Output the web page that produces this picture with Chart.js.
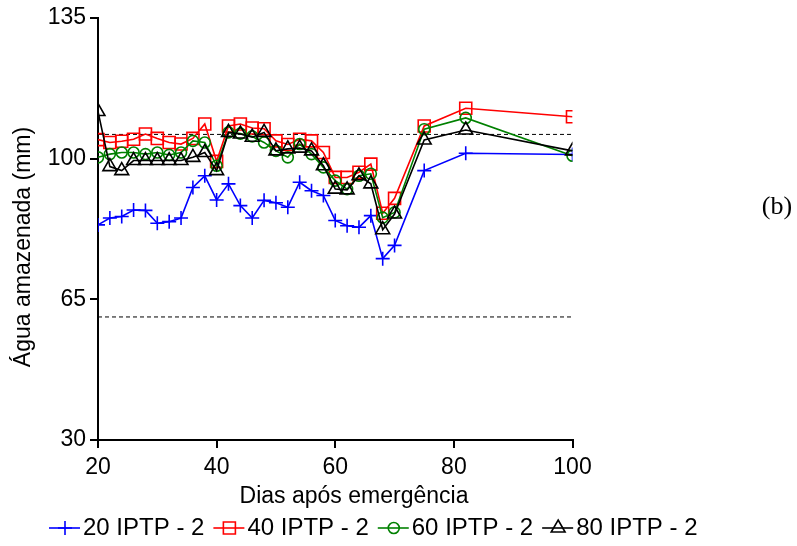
<!DOCTYPE html>
<html>
<head>
<meta charset="utf-8">
<script src="https://cdn.jsdelivr.net/npm/chart.js@4/dist/chart.umd.min.js"></script>
<style>
    html, body { margin: 0; padding: 0; background: #fff; }
</style>
</head>
<body>
<canvas id="chart" width="797" height="546"></canvas>
<script>
// Dias após emergência
const days = [20, 22, 24, 26, 28, 30, 32, 34, 36, 38, 40, 42, 44, 46, 48, 50, 52, 54, 56, 58, 60, 62, 64, 66, 68, 70, 75, 82, 100];

// Água amazenada (mm) por tratamento
const iptp20 = [83.5, 85.2, 85.6, 87.2, 87.1, 83.9, 84.3, 85.2, 92.8, 95.7, 89.7, 93.7, 88.3, 85.2, 89.6, 89.0, 87.9, 94.1, 92.0, 90.8, 84.6, 83.3, 82.9, 85.8, 75.1, 78.4, 97.0, 101.3, 101.0];
const iptp40 = [104.7, 104.0, 104.3, 104.8, 106.1, 105.0, 104.0, 103.6, 105.0, 108.6, 99.3, 108.1, 108.6, 107.6, 107.4, 104.4, 103.5, 104.8, 104.4, 101.5, 95.3, 95.3, 96.6, 98.6, 86.4, 90.1, 108.1, 112.5, 110.4];
const iptp60 = [100.3, 101.1, 101.5, 101.5, 101.1, 101.5, 100.9, 101.5, 104.4, 104.0, 98.2, 106.5, 106.2, 105.5, 104.0, 101.9, 100.3, 103.6, 101.1, 97.8, 94.5, 92.4, 95.7, 96.2, 85.3, 86.6, 107.3, 110.1, 100.7];
const iptp80 = [111.7, 98.0, 97.0, 99.5, 99.5, 99.5, 99.5, 99.5, 100.3, 101.5, 97.0, 106.5, 106.1, 105.3, 106.5, 101.9, 102.4, 102.6, 101.9, 98.2, 92.4, 92.2, 95.7, 93.7, 82.3, 86.2, 104.6, 107.1, 101.9];

// linhas tracejadas de referência
const refDays = [20, 100];
const refUpper = 106;
const refLower = 60.6;

const seriesLabels = ['20 IPTP - 2', '40 IPTP - 2', '60 IPTP - 2', '80 IPTP - 2'];
const yTicks = [30, 65, 100, 135];

const FONT = '"Liberation Sans", Arial, sans-serif';
const FSIZE = 23;

function toPoints(xs, ys) {
    return xs.map((x, i) => ({ x: x, y: ys[i] }));
}

function series(label, values, color, style, radius, order) {
    return {
        label: label,
        data: toPoints(days, values),
        borderColor: color,
        backgroundColor: 'rgba(0,0,0,0)',
        borderWidth: 1.6,
        pointStyle: style,
        pointRadius: radius,
        pointBorderWidth: 1.6,
        pointBorderColor: color,
        pointBackgroundColor: 'rgba(0,0,0,0)',
        tension: 0,
        order: order,
        inLegend: true,
    };
}

function refLine(value) {
    return {
        label: '',
        data: refDays.map(d => ({ x: d, y: value })),
        borderColor: '#000',
        borderWidth: 1,
        borderDash: [4, 3],
        pointRadius: 0,
        order: 10,
        inLegend: false,
    };
}

// legenda embaixo (linha + marcador), títulos dos eixos e rótulo (b)
const extras = {
    id: 'extras',
    afterDraw(chart) {
        const ctx = chart.ctx;
        const y = 528;
        let x = 49;
        ctx.save();
        ctx.font = '24px ' + FONT;
        ctx.textBaseline = 'middle';
        ctx.textAlign = 'left';
        chart.data.datasets.forEach(ds => {
            if (!ds.inLegend) return;
            ctx.strokeStyle = ds.borderColor;
            ctx.lineWidth = 1.6;
            ctx.beginPath();
            ctx.moveTo(x, y);
            ctx.lineTo(x + 31, y);
            ctx.stroke();
            ctx.fillStyle = 'rgba(0,0,0,0)';
            Chart.helpers.drawPoint(ctx, {
                pointStyle: ds.pointStyle,
                radius: ds.pointRadius,
                borderWidth: ds.pointBorderWidth,
                rotation: 0,
            }, x + 16, y);
            ctx.fillStyle = '#000';
            ctx.fillText(ds.label, x + 34, y);
            x += 34 + ctx.measureText(ds.label).width + 9;
        });

        ctx.font = FSIZE + 'px ' + FONT;
        ctx.textAlign = 'center';
        ctx.fillText('Dias após emergência', 354, 497);

        ctx.save();
        ctx.translate(24, 247);
        ctx.rotate(-Math.PI / 2);
        ctx.fillText('Água amazenada (mm)', 0, 0);
        ctx.restore();

        ctx.font = '26px "Liberation Serif", "Times New Roman", serif';
        ctx.fillText('(b)', 777, 207);
        ctx.restore();
    }
};

const ctx = document.getElementById('chart').getContext('2d');
const chart = new Chart(ctx, {
    type: 'line',
    data: {
        datasets: [
            series(seriesLabels[0], iptp20, '#0000ff', 'cross', 7, 4),
            series(seriesLabels[1], iptp40, '#ff0000', 'rect', 8.5, 3),
            series(seriesLabels[2], iptp60, '#008000', 'circle', 5.5, 2),
            series(seriesLabels[3], iptp80, '#000000', 'triangle', 8, 1),
            refLine(refUpper),
            refLine(refLower),
        ],
    },
    options: {
        responsive: false,
        animation: false,
        events: [],
        layout: {
            padding: { left: 0, right: 224.5, top: 17, bottom: 0 },
        },
        plugins: {
            legend: { display: false },
            tooltip: { enabled: false },
        },
        scales: {
            x: {
                type: 'linear',
                min: 20,
                max: 100,
                ticks: { stepSize: 20, color: '#000', font: { family: FONT, size: FSIZE }, padding: 6 },
                grid: { display: true, drawOnChartArea: false, drawTicks: true, tickLength: 8, color: '#000', lineWidth: 2 },
                border: { display: true, color: '#000', width: 2 },
                title: { display: false },
                afterFit(scale) { scale.height = 106; },
            },
            y: {
                type: 'linear',
                min: 30,
                max: 135,
                afterBuildTicks(scale) { scale.ticks = yTicks.map(v => ({ value: v })); },
                ticks: { color: '#000', font: { family: FONT, size: FSIZE }, padding: 4 },
                grid: { display: true, drawOnChartArea: false, drawTicks: true, tickLength: 8, color: '#000', lineWidth: 2 },
                border: { display: true, color: '#000', width: 2 },
                title: { display: false },
                afterFit(scale) { scale.width = 98; },
            },
        },
    },
    plugins: [extras],
});
</script>
</body>
</html>
